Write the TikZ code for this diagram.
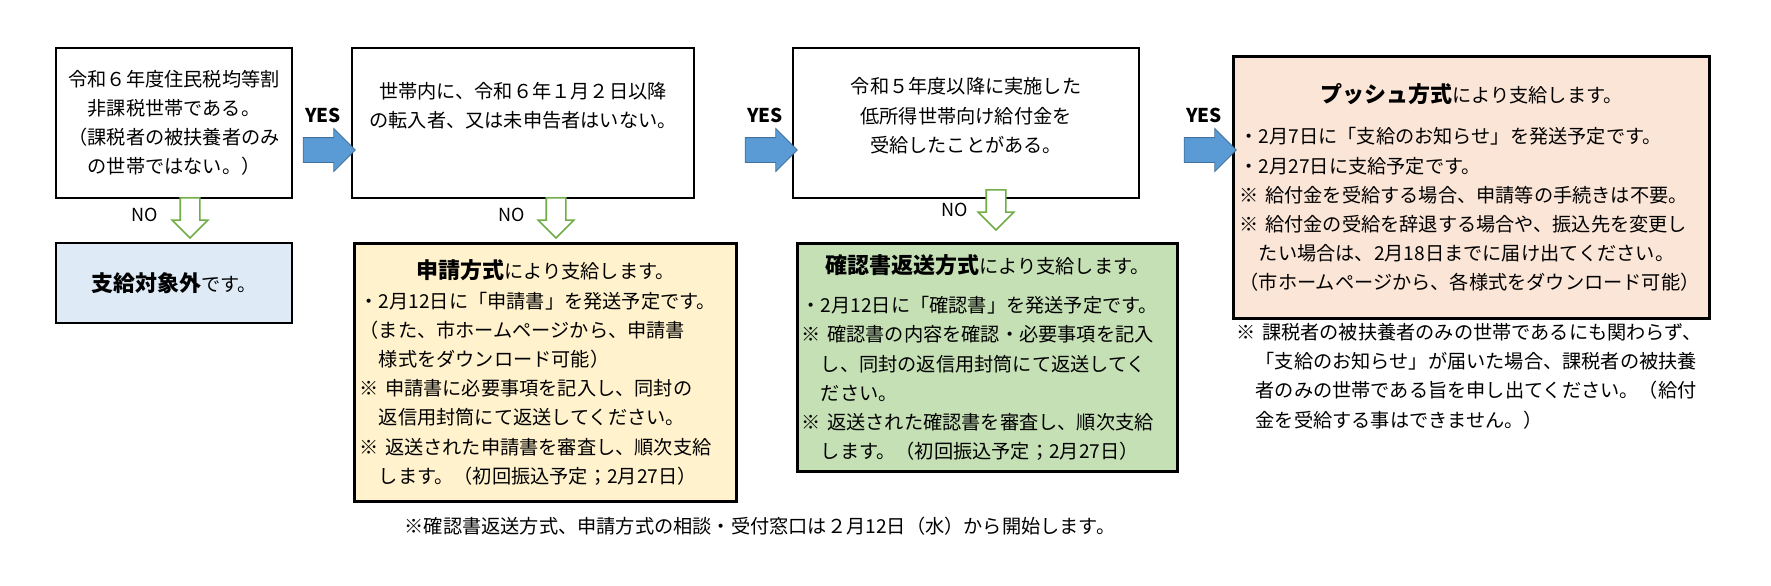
\documentclass[tikz,border=0pt]{standalone}
\usepackage{fontspec}
\setmainfont{Noto Sans CJK JP}
\usetikzlibrary{shapes.arrows,positioning}
\definecolor{yesblue}{RGB}{91,155,213}
\definecolor{yesedge}{RGB}{65,113,156}
\definecolor{nogreen}{RGB}{112,173,71}
\definecolor{outblue}{RGB}{222,235,247}
\definecolor{applyyellow}{RGB}{255,242,204}
\definecolor{confirmgreen}{RGB}{197,224,180}
\definecolor{pushpink}{RGB}{251,229,214}
\tikzset{
  txt/.style={font=\fontsize{9.6}{14.6}\selectfont},
  qbox/.style={draw, thick, txt, align=center},
  resbox/.style={draw, line width=1.6pt, txt, align=left, anchor=north west, inner sep=0pt},
  yesarrow/.style={single arrow, draw=yesedge, fill=yesblue, minimum height=26pt, minimum width=0pt, single arrow head extend=4.5pt, inner xsep=0pt, inner ysep=6pt},
  noarrow/.style={single arrow, draw=nogreen, thick, fill=white, rotate=-90, minimum height=20pt, minimum width=0pt, single arrow head extend=4pt, inner xsep=0pt, inner ysep=4.5pt},
  lbl/.style={font=\fontsize{9}{10}\selectfont},
  yeslbl/.style={font=\bfseries\fontsize{9.5}{10}\selectfont}
}
\begin{document}
\begin{tikzpicture}[x=0.5pt, y=-0.5pt]
\useasboundingbox (0,0) rectangle (1771,585);
% questions
\node[qbox, minimum width=118pt, minimum height=75pt] (q1) at (174,123) {令和６年度住民税均等割\\非課税世帯である。\\（課税者の被扶養者のみ\\の世帯ではない。）};
\node[qbox, minimum width=171pt, minimum height=75pt, text depth=18pt] (q2) at (523,123) {世帯内に、令和６年１月２日以降\\の転入者、又は未申告者はいない。};
\node[qbox, minimum width=173pt, minimum height=75pt, text depth=8pt] (q3) at (966,123) {令和５年度以降に実施した\\低所得世帯向け給付金を\\受給したことがある。};

% results
\node[draw, thick, fill=outblue, minimum width=118pt, minimum height=40pt, txt] (out) at (174,283) {\textbf{\fontsize{11}{12}\selectfont 支給対象外}です。};
\node[resbox, fill=applyyellow, minimum width=191pt, minimum height=129pt, text width=186pt, inner xsep=2pt, inner ysep=3pt] (apply) at (353,242)
{\makebox[\linewidth]{\textbf{\fontsize{11}{12}\selectfont 申請方式}により支給します。}\\
・2月12日に「申請書」を発送予定です。\\
（また、市ホームページから、申請書\\
\quad 様式をダウンロード可能）\\
※ 申請書に必要事項を記入し、同封の\\
\quad 返信用封筒にて返送してください。\\
※ 返送された申請書を審査し、順次支給\\
\quad します。（初回振込予定；2月27日）};
\node[resbox, fill=confirmgreen, minimum width=190pt, minimum height=114pt, text width=186pt, inner xsep=2pt, inner ysep=3pt] (confirm) at (796,242)
{\makebox[\linewidth]{\textbf{\fontsize{11}{12}\selectfont 確認書返送方式}により支給します。}\\[5pt]
・2月12日に「確認書」を発送予定です。\\
※ 確認書の内容を確認・必要事項を記入\\
\quad し、同封の返信用封筒にて返送してく\\
\quad ださい。\\
※ 返送された確認書を審査し、順次支給\\
\quad します。（初回振込予定；2月27日）};
\node[resbox, fill=pushpink, minimum width=237pt, minimum height=131pt, text width=232pt, inner xsep=3pt, inner ysep=5pt] (push) at (1232,55)
{\makebox[\linewidth]{\textbf{\fontsize{11}{12}\selectfont プッシュ方式}により支給します。}\\[6pt]
・2月7日に「支給のお知らせ」を発送予定です。\\
・2月27日に支給予定です。\\
※ 給付金を受給する場合、申請等の手続きは不要。\\
※ 給付金の受給を辞退する場合や、振込先を変更し\\
\quad たい場合は、2月18日までに届け出てください。\\
（市ホームページから、各様式をダウンロード可能）};

% notes
\node[txt, align=left, anchor=north west, text width=236pt, inner sep=0pt] (pushnote) at (1236,323)
{※ 課税者の被扶養者のみの世帯であるにも関わらず、\\
\quad 「支給のお知らせ」が届いた場合、課税者の被扶養\\
\quad 者のみの世帯である旨を申し出てください。（給付\\
\quad 金を受給する事はできません。）};
\node[txt] (footnote) at (760,526) {※確認書返送方式、申請方式の相談・受付窓口は２月12日（水）から開始します。};

% YES arrows
\node[yesarrow] (y1) at (323,150) {};
\node[yesarrow] (y2) at (765,150) {};
\node[yesarrow] (y3) at (1204,150) {};
\node[yeslbl] at (323,115) {YES};
\node[yeslbl] at (765,115) {YES};
\node[yeslbl] at (1204,115) {YES};

% NO arrows
\node[noarrow] (n1) at (190,213) {};
\node[noarrow] (n2) at (556,213) {};
\node[noarrow] (n3) at (996,205) {};
\node[lbl] at (145,215) {NO};
\node[lbl] at (512,215) {NO};
\node[lbl] at (955,210) {NO};
\end{tikzpicture}
\end{document}
